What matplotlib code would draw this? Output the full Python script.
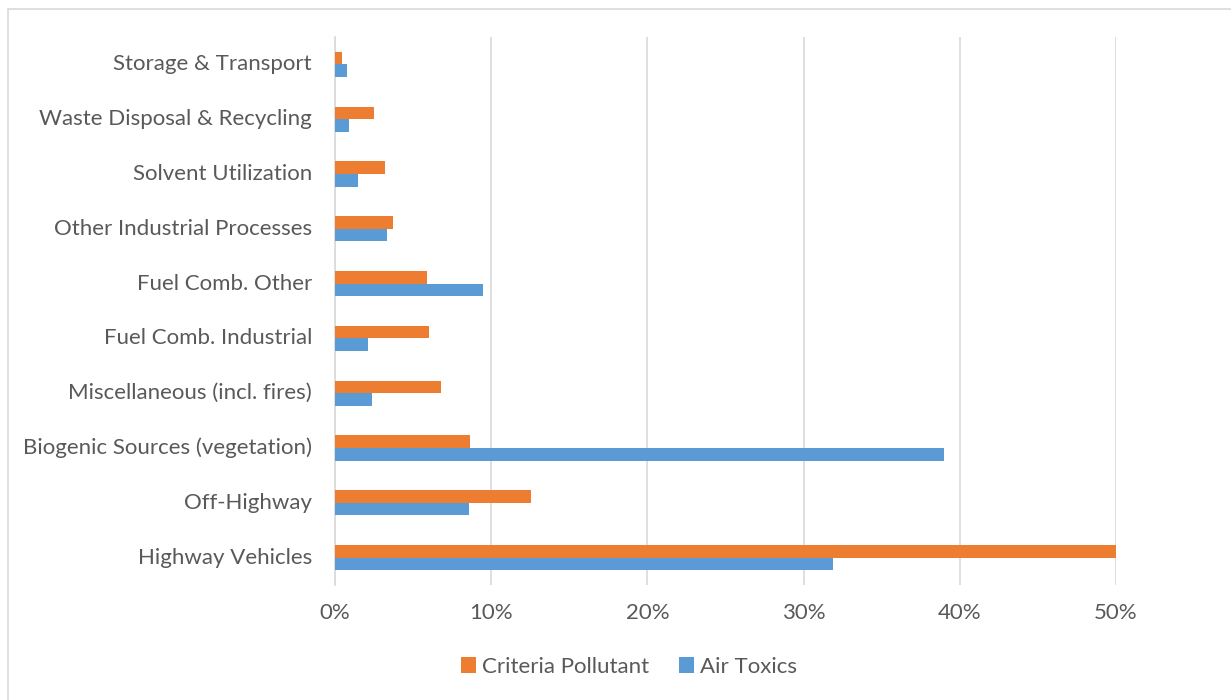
import matplotlib
matplotlib.use("Agg")
import matplotlib.pyplot as plt
from matplotlib.ticker import FuncFormatter
from matplotlib.patches import Rectangle
import matplotlib.transforms as mtransforms
import numpy as np

categories = ["Highway Vehicles", "Off-Highway", "Biogenic Sources (vegetation)",
              "Miscellaneous (incl. fires)", "Fuel Comb. Industrial", "Fuel Comb. Other",
              "Other Industrial Processes", "Solvent Utilization",
              "Waste Disposal & Recycling", "Storage & Transport"]
criteria = [50.0, 12.55, 8.67, 6.8, 5.99, 5.89, 3.73, 3.2, 2.49, 0.44]
air_toxics = [31.9, 8.56, 38.99, 2.4, 2.1, 9.48, 3.32, 1.46, 0.87, 0.76]
xticks = [0, 10, 20, 30, 40, 50]

TEXT = "#595959"
ORANGE = "#ED7D31"
BLUE = "#5B9BD5"
GRID = "#D9D9D9"

plt.rcParams['font.family'] = ['Lato', 'DejaVu Sans']

fig = plt.figure(figsize=(12.31, 7.0), dpi=100)
ax = fig.add_axes([335/1231, 1-585/700, (1116-335)/1231, 548/700])

y = np.arange(len(categories))
h = 0.23
ax.barh(y + h/2, criteria, height=h, color=ORANGE, label="Criteria Pollutant", zorder=3)
ax.barh(y - h/2, air_toxics, height=h, color=BLUE, label="Air Toxics", zorder=3)

ax.set_xlim(0, 50)
ax.set_ylim(-0.5, len(categories) - 0.5)
ax.set_xticks(xticks)
ax.xaxis.set_major_formatter(FuncFormatter(lambda v, p: f"{int(v)}%"))
ax.set_yticks(y)
ax.set_yticklabels(categories)
ax.tick_params(axis='both', length=0, colors=TEXT, labelsize=16)
ax.tick_params(axis='x', pad=13)
ax.tick_params(axis='y', pad=16.5)
shift = mtransforms.ScaledTranslation(0, 2/100, fig.dpi_scale_trans)
for lbl in ax.get_yticklabels():
    lbl.set_transform(lbl.get_transform() + shift)
ax.grid(axis='x', color=GRID, linewidth=1.2, zorder=0)
for s in ["top", "right", "bottom"]:
    ax.spines[s].set_visible(False)
ax.spines["left"].set_color(GRID)
ax.spines["left"].set_linewidth(1.2)

leg = fig.legend(loc="center", bbox_to_anchor=(629/1231, 1-667/700), ncol=2, frameon=False,
                 fontsize=16, handlelength=0.7, handleheight=0.7, handletextpad=0.28,
                 columnspacing=1.3, labelcolor=TEXT)

fig.patches.append(Rectangle((8/1231, -0.05), 1.5, 1.05-9/700, transform=fig.transFigure,
                             fill=False, edgecolor="#D9D9D9", linewidth=1.2))

fig.savefig("out.png", dpi=100, facecolor="white")
